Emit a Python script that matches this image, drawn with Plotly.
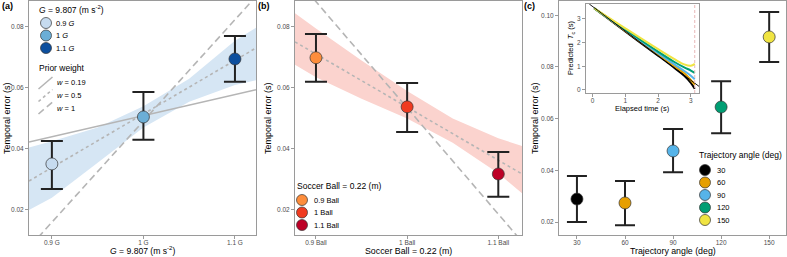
import plotly.graph_objects as go

W, H = 787, 257
FONT = "Liberation Sans, Arial, Helvetica, sans-serif"

# ---------------- Panel (a): gravity ----------------
a_x = [0.9, 1.0, 1.1]
a_names = ["0.9 <i>G</i>", "1 <i>G</i>", "1.1 <i>G</i>"]
a_ticktext = ["0.9 G", "1 G", "1.1 G"]
a_mean = [0.0351, 0.0505, 0.0695]
a_low = [0.0269, 0.0430, 0.0620]
a_high = [0.0426, 0.0587, 0.0770]
a_colors = ["#c6dbef", "#6baed6", "#0d4f9e"]

a_band_x = [0.875, 0.9, 0.95, 1.0, 1.05, 1.1, 1.123]
a_band_hi = [0.0405, 0.0425, 0.0470, 0.0540, 0.0630, 0.0755, 0.0797]
a_band_lo = [0.0200, 0.0240, 0.0355, 0.0470, 0.0555, 0.0610, 0.0625]

a_w019_x = [0.875, 1.123]
a_w019_y = [0.0423, 0.0594]
a_w05_x = [0.875, 1.123]
a_w05_y = [0.0295, 0.0731]
a_w1_x = [0.885, 1.120]
a_w1_y = [0.0110, 0.0890]
prior_names = ["<i>w</i> = 0.19", "<i>w</i> = 0.5", "<i>w</i> = 1"]

# ---------------- Panel (b): ball size ----------------
b_x = [0.9, 1.0, 1.1]
b_names = ["0.9 Ball", "1 Ball", "1.1 Ball"]
b_ticktext = ["0.9 Ball", "1 Ball", "1.1 Ball"]
b_mean = [0.0699, 0.0538, 0.0318]
b_low = [0.0620, 0.0456, 0.0243]
b_high = [0.0777, 0.0616, 0.0390]
b_colors = ["#fd8d3c", "#f03b20", "#bd0026"]

b_band_x = [0.877, 0.9, 0.95, 1.0, 1.05, 1.1, 1.126]
b_band_hi = [0.0845, 0.0795, 0.0690, 0.0590, 0.0500, 0.0435, 0.0410]
b_band_lo = [0.0676, 0.0635, 0.0565, 0.0500, 0.0420, 0.0320, 0.0255]

b_w05_x = [0.877, 1.126]
b_w05_y = [0.0751, 0.0318]
b_w1_x = [0.898, 1.122]
b_w1_y = [0.0890, 0.0110]

# ---------------- Panel (c): trajectory angle ----------------
c_x = [30, 60, 90, 120, 150]
c_names = ["30", "60", "90", "120", "150"]
c_mean = [0.0289, 0.0274, 0.0475, 0.0645, 0.0916]
c_low = [0.0200, 0.0188, 0.0393, 0.0544, 0.0819]
c_high = [0.0378, 0.0359, 0.0560, 0.0745, 0.1012]
c_colors = ["#000000", "#E69F00", "#56B4E9", "#009E73", "#F0E442"]

# inset: predicted time to contact
ins_ref_t = [-0.1, 3.25]
ins_ref_y = [3.63, 0.15]
ins_t = [0.05, 1.0, 2.0, 2.5, 2.8, 3.0, 3.12]
ins_y = {
    "30": [3.45, 2.47, 1.45, 0.93, 0.60, 0.30, 0.05],
    "60": [3.45, 2.50, 1.50, 1.00, 0.70, 0.42, 0.22],
    "90": [3.45, 2.52, 1.55, 1.08, 0.80, 0.60, 0.45],
    "120": [3.45, 2.55, 1.62, 1.18, 0.95, 0.82, 0.72],
    "150": [3.45, 2.60, 1.72, 1.30, 1.08, 1.02, 1.10],
}
ins_contact = 3.12

GRAY = "#b5b5b5"
FRAME = "#9a9a9a"
EDGE = "#333333"
DASHES = ["solid", "3px,3px", "7px,4px"]

fig = go.Figure()


def px_x(p):
    return p / W


def px_y(p):
    return 1 - p / H


def add_points(xs, means, lows, highs, colors, names, xa, ya, cap):
    for i in range(len(xs)):
        fig.add_trace(go.Scatter(
            x=[xs[i]], y=[means[i]], mode="markers", name=names[i], showlegend=False,
            marker=dict(size=12, color=colors[i], line=dict(color=EDGE, width=0.7)),
            error_y=dict(type="data", symmetric=False, array=[highs[i] - means[i]],
                         arrayminus=[means[i] - lows[i]], color="#222222", thickness=2,
                         width=cap),
            xaxis=xa, yaxis=ya))


def add_band(xs, lo, hi, color, xa, ya):
    fig.add_trace(go.Scatter(x=xs, y=lo, mode="lines", line=dict(width=0), showlegend=False,
                             hoverinfo="skip", xaxis=xa, yaxis=ya))
    fig.add_trace(go.Scatter(x=xs, y=hi, mode="lines", line=dict(width=0), fill="tonexty",
                             fillcolor=color, showlegend=False, hoverinfo="skip",
                             xaxis=xa, yaxis=ya))


# ---- (a)
add_band(a_band_x, a_band_lo, a_band_hi, "#d6e6f4", "x", "y")
for (lx, ly), dash in zip([(a_w019_x, a_w019_y), (a_w05_x, a_w05_y), (a_w1_x, a_w1_y)], DASHES):
    fig.add_trace(go.Scatter(x=lx, y=ly, mode="lines", showlegend=False,
                             line=dict(color=GRAY, width=1.6, dash=dash), xaxis="x", yaxis="y"))
add_points(a_x, a_mean, a_low, a_high, a_colors, a_names, "x", "y", 11)

# ---- (b)
add_band(b_band_x, b_band_lo, b_band_hi, "#fbd3ce", "x2", "y2")
for (lx, ly), dash in zip([(b_w05_x, b_w05_y), (b_w1_x, b_w1_y)], DASHES[1:]):
    fig.add_trace(go.Scatter(x=lx, y=ly, mode="lines", showlegend=False,
                             line=dict(color=GRAY, width=1.6, dash=dash), xaxis="x2", yaxis="y2"))
add_points(b_x, b_mean, b_low, b_high, b_colors, b_names, "x2", "y2", 11)

# ---- (c)
add_points(c_x, c_mean, c_low, c_high, c_colors, c_names, "x3", "y3", 10)

# ---- inset
for i, k in enumerate(c_names):
    fig.add_trace(go.Scatter(x=ins_t, y=ins_y[k], mode="lines", showlegend=False,
                             line=dict(color=c_colors[i], width=2, shape="spline"),
                             xaxis="x4", yaxis="y4"))
fig.add_trace(go.Scatter(x=ins_ref_t, y=ins_ref_y, mode="lines", showlegend=False,
                         line=dict(color="#000000", width=0.9), xaxis="x4", yaxis="y4"))

axis_common = dict(showline=True, mirror=True, linecolor=FRAME, linewidth=1,
                   ticks="outside", tickcolor=FRAME, tickwidth=1, ticklen=3,
                   tickfont=dict(size=6.5, color="#4d4d4d", family=FONT),
                   showgrid=False, zeroline=False)
xa_common = dict(ticklabelstandoff=-2, **axis_common)
ya_common = dict(axis_common)

ydom = [px_y(235), px_y(1)]
fig.update_layout(
    width=W, height=H, margin=dict(l=0, r=0, t=0, b=0),
    plot_bgcolor="white", paper_bgcolor="white", showlegend=False,
    font=dict(family=FONT, color="#000000"),
    xaxis=dict(domain=[px_x(29), px_x(256)], range=[0.875, 1.123], tickvals=a_x,
               ticktext=a_ticktext, anchor="y", **xa_common),
    yaxis=dict(domain=ydom, range=[0.0118, 0.0885], tickvals=[0.02, 0.04, 0.06, 0.08],
               tickformat=".2f", anchor="x", **ya_common),
    xaxis2=dict(domain=[px_x(295), px_x(522)], range=[0.877, 1.126], tickvals=b_x,
                ticktext=b_ticktext, anchor="y2", **xa_common),
    yaxis2=dict(domain=ydom, range=[0.0118, 0.0885], tickvals=[0.02, 0.04, 0.06, 0.08],
                tickformat=".2f", anchor="x2", **ya_common),
    xaxis3=dict(domain=[px_x(559), px_x(786)], range=[18.8, 160.5], tickvals=c_x,
                anchor="y3", **xa_common),
    yaxis3=dict(domain=ydom, range=[0.015, 0.1055], tickvals=[0.02, 0.04, 0.06, 0.08, 0.10],
                tickformat=".2f", anchor="x3", **ya_common),
    xaxis4=dict(domain=[px_x(586), px_x(699)], range=[-0.2, 3.25], tickvals=[0, 1, 2, 3],
                anchor="y4", **xa_common),
    yaxis4=dict(domain=[px_y(93), px_y(4)], range=[-0.13, 3.63], tickvals=[0, 1, 2, 3],
                anchor="x4", **ya_common),
)

# inset shading / reference lines
fig.add_shape(type="rect", xref="x4", yref="y4 domain", x0=ins_contact, x1=3.25, y0=0, y1=1,
              fillcolor="#fdeeee", line=dict(width=0), layer="below")
fig.add_shape(type="line", xref="x4", yref="y4 domain", x0=ins_contact, x1=ins_contact, y0=0, y1=1,
              line=dict(color="#e8b8b8", width=1, dash="3px,2px"))
fig.add_shape(type="line", xref="x4 domain", yref="y4", x0=0, x1=1, y0=0, y1=0,
              line=dict(color="#cccccc", width=1, dash="3px,2px"), layer="below")


def text(t, x, y, size, ang=0, xa="left", ya="middle", color="#000000"):
    fig.add_annotation(text=t, x=px_x(x), y=px_y(y), xref="paper", yref="paper",
                       xanchor=xa, yanchor=ya, showarrow=False, textangle=ang, borderpad=0,
                       font=dict(size=size, family=FONT, color=color))


def key_circle(cx, cy, color, r=5.5):
    fig.add_shape(type="circle", xref="paper", yref="paper", xsizemode="pixel",
                  ysizemode="pixel", xanchor=px_x(cx), yanchor=px_y(cy),
                  x0=-r, x1=r, y0=-r, y1=r, fillcolor=color,
                  line=dict(color=EDGE, width=0.7))


def key_line(cx, cy, dash):
    fig.add_shape(type="line", xref="paper", yref="paper", xsizemode="pixel",
                  ysizemode="pixel", xanchor=px_x(cx), yanchor=px_y(cy),
                  x0=-7, x1=7, y0=-6, y1=6, line=dict(color=GRAY, width=1.6, dash=dash))


# legend (a): gravity
text("<i>G</i> = 9.807 (m s<sup>-2</sup>)", 38, 10, 8.5)
for i in range(3):
    key_circle(46, 23 + 12.5 * i, a_colors[i])
    text(a_names[i], 55, 23 + 12.5 * i, 7.5)
# legend (a): prior weight
text("Prior weight", 38, 68, 8.5)
for i in range(3):
    key_line(45.5, 83 + 12.5 * i, DASHES[i])
    text(prior_names[i], 56, 83 + 12.5 * i, 7.5)
# legend (b)
text("Soccer Ball = 0.22 (m)", 296, 186, 8.5)
for i in range(3):
    key_circle(302, 200 + 12.5 * i, b_colors[i])
    text(b_names[i], 313, 200 + 12.5 * i, 7.5)
# legend (c)
text("Trajectory angle (deg)", 698, 155, 8.5)
for i in range(5):
    key_circle(705, 170 + 12.5 * i, c_colors[i])
    text(c_names[i], 716, 170 + 12.5 * i, 7.5)

# panel labels and axis titles
text("<b>(a)</b>", 1, 6, 9)
text("<b>(b)</b>", 257, 6, 9)
text("<b>(c)</b>", 523, 6, 9)
text("<i>G</i> = 9.807 (m s<sup>-2</sup>)", 142.5, 256.5, 8.6, xa="center", ya="bottom")
text("Soccer Ball = 0.22 (m)", 408.5, 256.5, 8.8, xa="center", ya="bottom")
text("Trajectory angle (deg)", 672.5, 256.5, 8.8, xa="center", ya="bottom")
text("Temporal error (s)", 7, 118, 9, ang=-90, xa="center")
text("Temporal error (s)", 268, 118, 9, ang=-90, xa="center")
text("Temporal error (s)", 535, 118, 9, ang=-90, xa="center")
text("Elapsed time (s)", 642.5, 108, 7.5, xa="center")
text("Predicted  <i>T</i><sub>c</sub> (s)", 571, 48, 7.5, ang=-90, xa="center")

fig.write_html("out.html")
